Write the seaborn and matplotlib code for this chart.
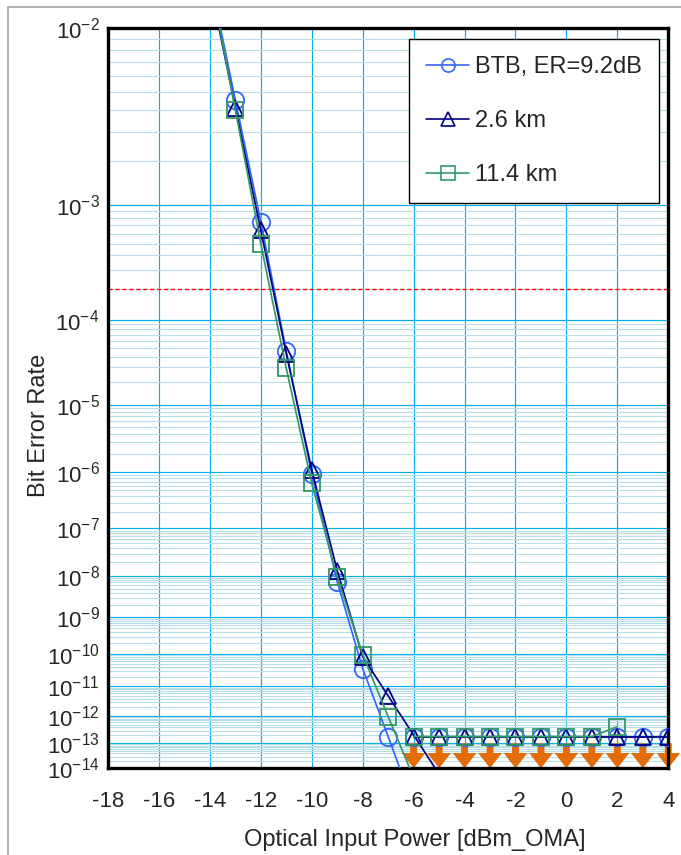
import math
import numpy as np
import pandas as pd
import matplotlib
matplotlib.use("Agg")
import matplotlib.pyplot as plt
from matplotlib.lines import Line2D
import seaborn as sns

# ---------------- data ----------------
power_meas = [-13, -12, -11, -10, -9, -8, -7]
ber_btb = [4.5e-3, 7.5e-4, 4.6e-5, 9.5e-7, 7.3e-9, 3.6e-11, 1.8e-13]
ber_26km = [4.1e-3, 6.4e-4, 4.3e-5, 1.1e-6, 1.3e-8, 8.1e-11, 4.9e-12]
ber_114km = [4.0e-3, 5.0e-4, 2.9e-5, 6.6e-7, 9.4e-9, 9.4e-11, 9.6e-13]

# extrapolated fit lines: where each line meets the top / bottom of the plot
line_top_power = [-13.58, -13.64, -13.61]
line_top_ber = [1e-2, 1e-2, 1e-2]
line_bottom_power = [-6.54, -5.15, -6.15]
line_bottom_ber = [1e-14, 1e-14, 1e-14]

# error-free measurements (upper bounds)
ef_power_btb = [-6, -5, -4, -3, -2, -1, 0, 1, 2, 3, 4]
ef_ber_btb = [1.8e-13, 1.8e-13, 1.8e-13, 1.8e-13, 1.8e-13, 1.8e-13,
              1.8e-13, 1.8e-13, 1.8e-13, 1.8e-13, 1.8e-13]
ef_power_26km = [-6, -5, -4, -3, -2, -1, 0, 1, 2, 3, 4]
ef_ber_26km = [1.8e-13, 1.8e-13, 1.8e-13, 1.8e-13, 1.8e-13, 1.8e-13,
               1.8e-13, 1.8e-13, 1.8e-13, 1.8e-13, 1.8e-13]
ef_power_114km = [-6, -5, -4, -3, -2, -1, 0, 1, 2]
ef_ber_114km = [1.8e-13, 1.8e-13, 1.8e-13, 1.8e-13, 1.8e-13, 1.8e-13,
                1.8e-13, 1.8e-13, 4.2e-13]

arrow_power = [-6, -5, -4, -3, -2, -1, 0, 1, 2, 3, 4]
arrow_start_ber = 1.0e-13
arrow_end_ber = 1e-14

fec_threshold = 2e-4

series_labels = ["BTB, ER=9.2dB", "2.6 km", "11.4 km"]
series_colors = ["#3366FF", "#000080", "#339966"]
series_markers = ["o", "^", "s"]

x_ticks = [-18, -16, -14, -12, -10, -8, -6, -4, -2, 0, 2, 4]
y_exponents = [-2, -3, -4, -5, -6, -7, -8, -9, -10, -11, -12, -13, -14]
minor_mantissas = [2, 3, 4, 5, 6, 7, 8, 9]

x_label = "Optical Input Power [dBm_OMA]"
y_label = "Bit Error Rate"

# ---------------- BER (log Q) scale ----------------
_A = [-3.969683028665376e+01, 2.209460984245205e+02, -2.759285104469687e+02,
      1.383577518672690e+02, -3.066479806614716e+01, 2.506628277459239e+00]
_B = [-5.447609879822406e+01, 1.615858368580409e+02, -1.556989798598866e+02,
      6.680131188771972e+01, -1.328068155288572e+01]
_C = [-7.784894002430293e-03, -3.223964580411365e-01, -2.400758277161838e+00,
      -2.549671348874367e+00, 4.374664141464968e+00, 2.938163982698783e+00]
_D = [7.784695709041462e-03, 3.224671290700398e-01, 2.445134137142996e+00,
      3.754408661907416e+00]


def _ppf_lower(p):
    p = np.clip(np.asarray(p, dtype=float), 1e-300, 0.49999)
    q = np.sqrt(-2.0 * np.log(p))
    xl = (((((_C[0] * q + _C[1]) * q + _C[2]) * q + _C[3]) * q + _C[4]) * q + _C[5]) / \
         ((((_D[0] * q + _D[1]) * q + _D[2]) * q + _D[3]) * q + 1.0)
    qc = p - 0.5
    r = qc * qc
    xc = (((((_A[0] * r + _A[1]) * r + _A[2]) * r + _A[3]) * r + _A[4]) * r + _A[5]) * qc / \
         (((((_B[0] * r + _B[1]) * r + _B[2]) * r + _B[3]) * r + _B[4]) * r + 1.0)
    return np.where(p < 0.02425, xl, xc)


def ber_to_y(ber):
    q = -_ppf_lower(ber)
    return -np.log10(np.maximum(q, 1e-12))


_erfc = np.vectorize(math.erfc, otypes=[float])


def y_to_ber(y):
    q = 10.0 ** (-np.clip(np.asarray(y, dtype=float), -1.6, 12))
    return 0.5 * _erfc(q / math.sqrt(2.0))


# ---------------- figure ----------------
sns.set_style("white")
plt.rcParams["font.family"] = ["Liberation Sans", "DejaVu Sans"]
plt.rcParams["mathtext.default"] = "regular"
plt.rcParams["axes.unicode_minus"] = False

fig = plt.figure(figsize=(6.81, 8.55), dpi=100)
ax = fig.add_axes([108 / 681, 1 - 768.3 / 855, (668.3 - 108) / 681, (768.3 - 28.3) / 855])
ax.set_yscale("function", functions=(ber_to_y, y_to_ber))
ax.set_xlim(-18, 4)
ax.set_ylim(1e-14, 1e-2)

major_y = [10.0 ** e for e in y_exponents]
minor_y = [m * 10.0 ** e for e in y_exponents[1:] for m in minor_mantissas]
ax.set_yticks(major_y, labels=[r"$10^{%d}$" % e for e in y_exponents])
ax.set_yticks(minor_y, minor=True)
ax.set_xticks(x_ticks, labels=[str(v) for v in x_ticks])

ax.grid(True, which="major", axis="both", color="#00B0F0", lw=0.85, zorder=0)
ax.grid(True, which="minor", axis="y", color="#B7DDE8", lw=0.8, zorder=0)
ax.set_axisbelow(True)

ax.tick_params(axis="x", which="major", direction="in", length=4, width=1,
               color="black", labelsize=16, pad=16.5)
ax.tick_params(axis="y", which="both", length=0, labelsize=16, pad=6)
for s in ax.spines.values():
    s.set_color("black")
    s.set_linewidth(2.4)

ax.axhline(fec_threshold, color="#FF0000", lw=1.0, ls=(0, (3, 2)), zorder=1)

meas = [ber_btb, ber_26km, ber_114km]
ef_p = [ef_power_btb, ef_power_26km, ef_power_114km]
ef_b = [ef_ber_btb, ef_ber_26km, ef_ber_114km]
msizes = [12.5, 11.5, 11.0]

for xp in arrow_power:
    ax.annotate("", xy=(xp, arrow_end_ber), xytext=(xp, arrow_start_ber),
                xycoords="data", textcoords="data",
                arrowprops=dict(arrowstyle="simple,head_length=1.1,head_width=1.7,tail_width=0.5",
                                mutation_scale=10, lw=0, fc="#E36C09", ec="none",
                                shrinkA=0, shrinkB=0),
                zorder=2.5, annotation_clip=False)

for i in range(3):
    z = 3 + i
    line_df = pd.DataFrame({
        "power": [line_top_power[i]] + power_meas + [line_bottom_power[i]],
        "ber": [line_top_ber[i]] + meas[i] + [line_bottom_ber[i]],
    })
    sns.lineplot(data=line_df, x="power", y="ber", ax=ax, color=series_colors[i],
                 linewidth=1.25, sort=False, estimator=None, zorder=z)
    pts = pd.DataFrame({"power": power_meas, "ber": meas[i]})
    sns.lineplot(data=pts, x="power", y="ber", ax=ax, color=series_colors[i],
                 linestyle="none", marker=series_markers[i], markersize=msizes[i],
                 markerfacecolor="none", markeredgecolor=series_colors[i],
                 markeredgewidth=1.3, sort=False, estimator=None, zorder=z)
    ef_df = pd.DataFrame({"power": ef_p[i], "ber": ef_b[i]})
    sns.lineplot(data=ef_df, x="power", y="ber", ax=ax, color=series_colors[i],
                 linewidth=1.25, marker=series_markers[i], markersize=msizes[i],
                 markerfacecolor="none", markeredgecolor=series_colors[i],
                 markeredgewidth=1.3, sort=False, estimator=None, zorder=z)

handles = [Line2D([], [], color=c, marker=m, markerfacecolor="none", markeredgecolor=c,
                  markersize=9.5, markeredgewidth=1.2, linewidth=1.2)
           for c, m in zip(series_colors, series_markers)]
leg = ax.legend(handles, series_labels, loc="upper right", bbox_to_anchor=(0.983, 0.985),
                borderaxespad=0, fontsize=17, frameon=True, fancybox=False,
                framealpha=1, edgecolor="black", handlelength=1.82, handletextpad=0.25,
                labelspacing=1.35, borderpad=0.72)
leg.get_frame().set_linewidth(1.0)
leg.set_zorder(10)

ax.set_xlabel(x_label, fontsize=17)
ax.set_ylabel(y_label, fontsize=17)
ax.xaxis.set_label_coords(0.547, -0.0818)
ax.yaxis.set_label_coords(-0.103, 0.464)

# outer chart border (gray, left and top visible)
fig.add_artist(Line2D([8 / 681, 8 / 681], [0, 1 - 7 / 855], color="#A6A6A6", lw=1.2,
                      transform=fig.transFigure))
fig.add_artist(Line2D([8 / 681, 1], [1 - 7 / 855, 1 - 7 / 855], color="#A6A6A6", lw=1.2,
                      transform=fig.transFigure))

fig.savefig("out.png", dpi=100)
